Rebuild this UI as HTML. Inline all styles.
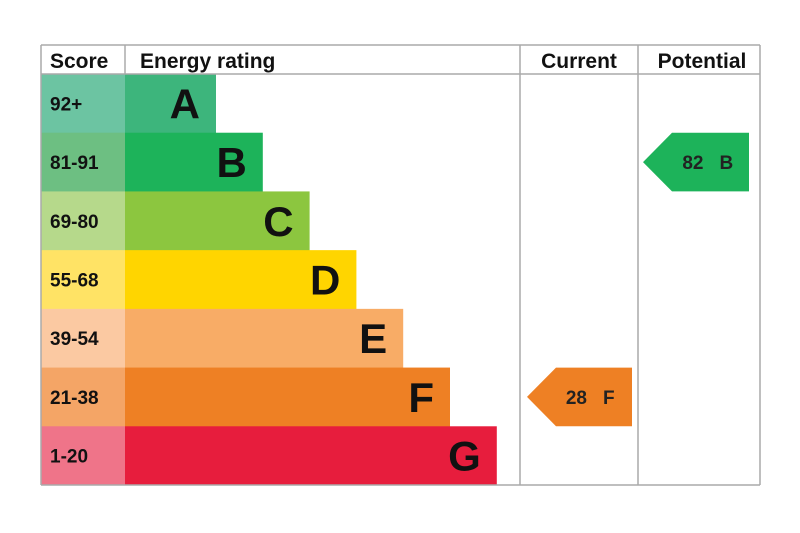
<!DOCTYPE html>
<html><head><meta charset="utf-8"><style>body{margin:0;background:#fff}svg{display:block}svg text{font-family:"Liberation Sans",Arial,sans-serif;font-weight:bold}</style></head>
<body>
<svg id="c" width="800" height="533" xmlns="http://www.w3.org/2000/svg"></svg>
<script>
const bands=['A','B','C','D','E','F','G'];
const ranges=['92+','81-91','69-80','55-68','39-54','21-38','1-20'];
const minScores=[92,81,69,55,39,21,1];
const barColors=['#3db57c','#1db35a','#8cc63f','#ffd500','#f8ac66','#ee8024','#e71d3d'];
const scoreColors=['#6cc4a2','#6dbf82','#b6d98b','#ffe365','#fbc9a2','#f4a566','#ef7489'];
const currentScore=28, potentialScore=82;
const svg=document.getElementById('c');const NS='http://www.w3.org/2000/svg';
function el(t,a,txt){const e=document.createElementNS(NS,t);for(const k in a)e.setAttribute(k,a[k]);if(txt!==undefined)e.textContent=txt;svg.appendChild(e);return e;}
const top0=74,bottom=485,rowH=(bottom-top0)/7;
const rowY=i=>top0+i*rowH;
const barEnd=i=>216+i*46.8;
function bandOf(s){for(let i=0;i<7;i++)if(s>=minScores[i])return i;return 6;}
for(let i=0;i<7;i++){
 let e=el('rect',{x:41,y:rowY(i),width:84,height:rowH+0.5,fill:scoreColors[i]});
 
 
 e=el('text',{x:50,y:rowY(i)+rowH/2+7,'font-size':19,fill:'#111'},ranges[i]);
 
 
 e=el('rect',{x:125,y:rowY(i),width:barEnd(i)-125,height:rowH+0.5,fill:barColors[i]});
 
 
 e=el('text',{x:barEnd(i)-16,y:rowY(i)+rowH/2+15,'font-size':42,'text-anchor':'end',fill:'#111'},bands[i]);
 
 
}
function arrow(score,x0,x1,name){
 const i=bandOf(score),y=rowY(i),h=rowH,d=29;
 let e=el('polygon',{points:`${x0},${y+h/2} ${x0+d},${y} ${x1},${y} ${x1},${y+h} ${x0+d},${y+h}`,fill:barColors[i]});
 
 
 const cx=(x0+d+x1)/2-3;
 e=el('text',{x:cx-4,y:y+h/2+7,'font-size':19,'text-anchor':'end',fill:'#222'},String(score));
 
 
 e=el('text',{x:cx+12,y:y+h/2+7,'font-size':19,'text-anchor':'start',fill:'#222'},bands[i]);
 
 
}
arrow(currentScore,527,632,'current');
arrow(potentialScore,643,749,'potential');
const g='#aaa';
[[41,45,760,45],[41,74,760,74],[41,485,760,485],[41,45,41,485],[125,45,125,74],[520,45,520,485],[638,45,638,485],[760,45,760,485]].forEach(l=>{
 const e=el('line',{x1:l[0],y1:l[1],x2:l[2],y2:l[3],stroke:g,'stroke-width':1.5});
 
 
});
[['Score',50,'score-header'],['Energy rating',140,'energy-rating-header']].forEach(h=>{
 const e=el('text',{x:h[1],y:68,'font-size':21,fill:'#111'},h[0]);
 
});
[['Current',579,'current-header'],['Potential',702,'potential-header']].forEach(h=>{
 const e=el('text',{x:h[1],y:68,'font-size':21,'text-anchor':'middle',fill:'#111'},h[0]);
 
});
</script>
</body></html>
